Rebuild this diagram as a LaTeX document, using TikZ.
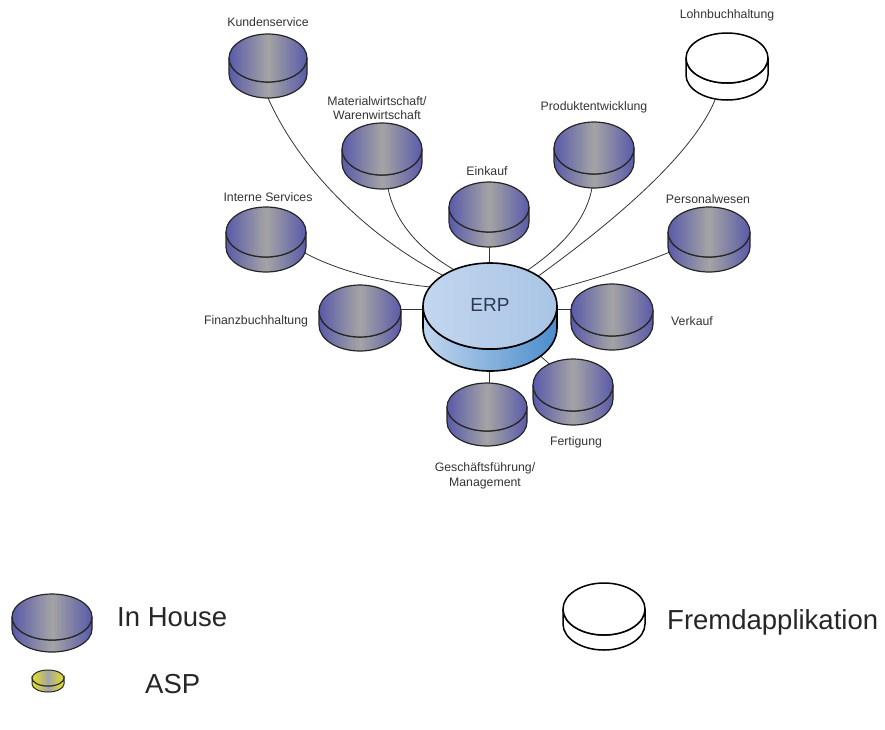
\documentclass[tikz,border=0pt]{standalone}
\usepackage{fontspec}
\setmainfont{Liberation Sans}
\definecolor{dblue}{HTML}{5A5AAA}
\definecolor{dgray}{HTML}{A4A4A4}
\definecolor{eltop}{HTML}{C2D6EE}
\definecolor{ertop}{HTML}{A9C4E6}
\definecolor{esdark}{HTML}{4A8CCC}
\definecolor{ayel}{HTML}{E6E020}
\definecolor{txt}{HTML}{333333}
\definecolor{erptxt}{HTML}{2A3A52}
\newcommand{\dsk}[7]{%
  \coordinate (#1) at (#2,#3);
  \path[#7] (#2-#4,#3) -- ++(0,#6) arc[start angle=180,end angle=0,x radius=#4,y radius=#5] -- ++(0,-#6) arc[start angle=0,end angle=180,x radius=#4,y radius=#5] -- cycle;
  \path[#7] (#2,#3) ellipse[x radius=#4,y radius=#5];
}
\tikzset{
  inhouse/.style={draw=black!85,line width=1.2pt,left color=dblue,right color=dblue,middle color=dgray},
  fremd/.style={draw=black,line width=1.5pt,fill=white},
  asp/.style={draw=black!85,line width=1pt,left color=ayel,right color=ayel,middle color=dgray},
  erpside/.style={draw=black,line width=1.6pt,left color=eltop,right color=esdark},
  erptopst/.style={draw=black,line width=1.6pt,left color=eltop,right color=ertop},
  lbl/.style={text=txt,font=\fontsize{12.3}{14.5}\selectfont,align=center,inner sep=0pt},
  big/.style={text=black!85,font=\fontsize{27.5}{30}\selectfont,anchor=west,inner sep=0pt},
  conn/.style={draw=black!80,line width=0.8pt}
}
\begin{document}
\begin{tikzpicture}[x=1pt,y=-1pt]
\useasboundingbox (0,0) rectangle (885,729);
% connector end points
\coordinate (ksB) at (268,98);
\coordinate (ksE) at (452,280);
\coordinate (maB) at (388,188);
\coordinate (maE) at (462,274);
\coordinate (inB) at (305,253);
\coordinate (inE) at (442,288);
\coordinate (ekB) at (489,246);
\coordinate (ekE) at (489,270);
\coordinate (prB) at (592,188);
\coordinate (prE) at (522,274);
\coordinate (loB) at (715,100);
\coordinate (loE) at (530,282);
\coordinate (peB) at (670,252);
\coordinate (peE) at (545,292);
\coordinate (fiB) at (395,309);
\coordinate (fiE) at (430,309);
\coordinate (veB) at (580,309);
\coordinate (veE) at (550,309);
\coordinate (geB) at (489,390);
\coordinate (geE) at (489,365);
\coordinate (feB) at (573,385);
\coordinate (feE) at (500,320);
% connectors
\draw[conn] (ksB) .. controls (300,170) and (370,240) .. (ksE);
\draw[conn] (maB) .. controls (395,225) and (425,255) .. (maE);
\draw[conn] (inB) .. controls (340,272) and (390,284) .. (inE);
\draw[conn] (ekB) -- (ekE);
\draw[conn] (prB) .. controls (585,225) and (555,252) .. (prE);
\draw[conn] (loB) .. controls (690,160) and (600,232) .. (loE);
\draw[conn] (peB) .. controls (630,268) and (585,282) .. (peE);
\draw[conn] (fiB) -- (fiE);
\draw[conn] (veB) -- (veE);
\draw[conn] (geB) -- (geE);
\draw[conn] (feB) -- (feE);
% disks
\dsk{ks}{268}{58}{39}{24}{16}{inhouse}
\dsk{lo}{727}{58}{41}{25}{17}{fremd}
\dsk{ma}{382}{149}{40}{26}{14}{inhouse}
\dsk{pr}{594}{148}{40}{26}{14}{inhouse}
\dsk{ek}{489}{207}{40}{25}{15}{inhouse}
\dsk{in}{266}{232}{40}{25}{15}{inhouse}
\dsk{pe}{709}{232}{41}{25}{15}{inhouse}
\dsk{fi}{360}{311}{41}{26}{14}{inhouse}
\dsk{ve}{612}{310}{41}{26}{14}{inhouse}
\dsk{ge}{487}{407}{40}{24}{15}{inhouse}
\dsk{fe}{573}{385}{40}{26}{14}{inhouse}
% ERP
\coordinate (erp) at (490,306);
\path[erpside] (490-67,306) -- ++(0,22) arc[start angle=180,end angle=0,x radius=67,y radius=43] -- ++(0,-22) arc[start angle=0,end angle=180,x radius=67,y radius=43] -- cycle;
\path[erptopst] (490,306) ellipse[x radius=67,y radius=43];
\node[text=erptxt,font=\fontsize{19}{20}\selectfont,inner sep=0pt] (erpl) at (490,305) {ERP};
% labels
\node[lbl] (l1) at (268,22) {Kundenservice};
\node[lbl] (l2) at (377,108) {Materialwirtschaft/\\Warenwirtschaft};
\node[lbl] (l3) at (487,171) {Einkauf};
\node[lbl] (l4) at (594,107) {Produktentwicklung};
\node[lbl] (l5) at (727,15) {Lohnbuchhaltung};
\node[lbl] (l6) at (268,197) {Interne Services};
\node[lbl] (l7) at (708,199) {Personalwesen};
\node[lbl] (l8) at (256,321) {Finanzbuchhaltung};
\node[lbl] (l9) at (692,321) {Verkauf};
\node[lbl] (l10) at (576,442) {Fertigung};
\node[lbl] (l11) at (485,476) {Geschäftsführung/\\Management};
% legend
\dsk{lgA}{52}{617}{40}{23}{12}{inhouse}
\node[big] (t1) at (117,617) {In House};
\dsk{lgB}{48}{678}{16}{8}{6}{asp}
\node[big] (t2) at (145,684) {ASP};
\dsk{lgC}{604}{609}{41}{26}{15}{fremd}
\node[big] (t3) at (667,622) {Fremdapplikation};
\end{tikzpicture}
\end{document}
